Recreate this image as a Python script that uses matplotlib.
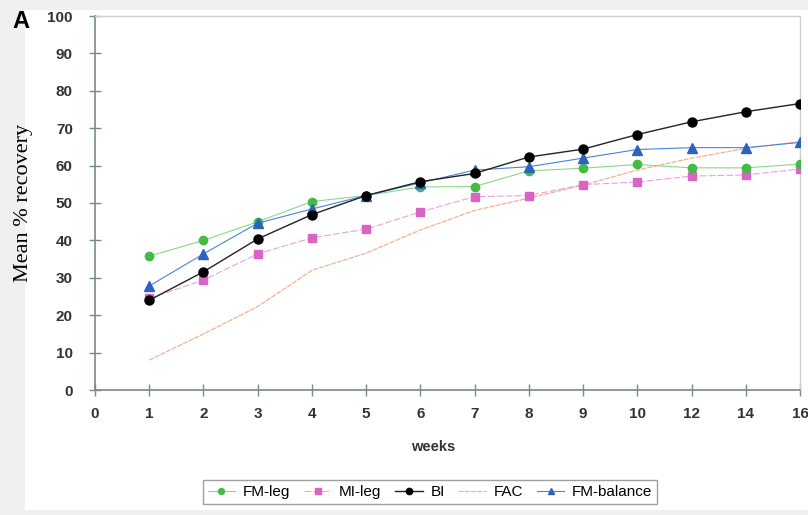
import matplotlib.pyplot as plt
import matplotlib.patches as patches
import numpy as np

# x axis is categorical (equally spaced weeks)
weeks = ['0', '1', '2', '3', '4', '5', '6', '7', '8', '9', '10', '12', '14', '16']

fm_leg = [35.8, 40.0, 45.0, 50.4, 52.0, 54.3, 54.4, 58.6, 59.3, 60.3, 59.4, 59.4, 60.4]
mi_leg = [24.5, 29.4, 36.4, 40.7, 43.0, 47.6, 51.7, 52.0, 54.9, 55.6, 57.2, 57.5, 59.1]
bi = [24.0, 31.6, 40.4, 46.9, 52.0, 55.7, 57.9, 62.3, 64.4, 68.3, 71.7, 74.4, 76.6]
fac = [8.0, 15.0, 22.3, 32.0, 36.6, 42.8, 48.0, 51.3, 54.8, 58.8, 62.0, 64.6, 66.4]
fm_balance = [27.8, 36.4, 44.6, 48.4, 52.0, 55.4, 58.8, 59.7, 62.0, 64.3, 64.8, 64.8, 66.2]

x = np.arange(1, len(weeks))

fig = plt.figure(figsize=(8.08, 5.15), dpi=100, facecolor='#f0f0f0')
# white panel behind the chart
fig.patches.append(patches.Rectangle((25 / 808, 5 / 515), 1, 1 - 15 / 515,
                                     transform=fig.transFigure, facecolor='white',
                                     edgecolor='none', zorder=-5))
ax = fig.add_axes([95 / 808, 1 - 390 / 515, 705 / 808, 374 / 515])
ax.set_facecolor('white')

ax.plot(x, fac, color='#f8b08a', lw=0.9, ls=(0, (4, 1)), label='FAC', zorder=2)
ax.plot(x, mi_leg, color='#eca0e0', lw=0.8, ls=(0, (6, 2)), marker='s', ms=5.5,
        mfc='#d865c4', mec='#d865c4', label='MI-leg', zorder=3)
ax.plot(x, fm_leg, color='#8ad88a', lw=0.8, marker='o', ms=6,
        mfc='#44bb44', mec='#44bb44', label='FM-leg', zorder=3)
ax.plot(x, fm_balance, color='#4a84d6', lw=0.8, marker='^', ms=6.5,
        mfc='#2b63bd', mec='#2b63bd', label='FM-balance', zorder=4)
ax.plot(x, bi, color='#222222', lw=1.0, marker='o', ms=6.5,
        mfc='black', mec='black', label='BI', zorder=5)

ax.set_xlim(0, len(weeks) - 1)
ax.set_ylim(0, 100)
ax.set_xticks(np.arange(len(weeks)))
ax.set_xticklabels(weeks)
ax.set_yticks(np.arange(0, 101, 10))

for s in ['left', 'bottom']:
    ax.spines[s].set_color('#7a8a8a')
    ax.spines[s].set_linewidth(1.2)
for s in ['top', 'right']:
    ax.spines[s].set_color('#d0d0d0')
    ax.spines[s].set_linewidth(1.0)

ax.tick_params(axis='both', direction='inout', length=8, width=1, color='#7a8a8a',
               labelsize=11, labelcolor='#333333')
ax.tick_params(axis='x', pad=8)
ax.tick_params(axis='y', pad=12)
for lab in ax.get_xticklabels() + ax.get_yticklabels():
    lab.set_fontweight('bold')
    lab.set_family('Liberation Sans')

ax.set_xlabel('weeks', fontsize=10.5, family='Liberation Sans', fontweight='bold',
              color='#333333')
ax.xaxis.set_label_coords(0.479, -0.135)
ax.set_ylabel('Mean % recovery', fontsize=16, family='Liberation Serif', labelpad=10)

fig.text(12 / 808, 1 - 22 / 515, 'A', fontsize=17, fontweight='bold',
         family='Liberation Sans', va='center')

handles, labels = ax.get_legend_handles_labels()
order = ['FM-leg', 'MI-leg', 'BI', 'FAC', 'FM-balance']
hmap = dict(zip(labels, handles))
leg = fig.legend([hmap[k] for k in order], order, loc='center',
                 bbox_to_anchor=(430 / 808, 1 - 492 / 515), ncol=5, frameon=True,
                 fancybox=False, edgecolor='#888888',
                 handlelength=1.8, handletextpad=0.5, columnspacing=0.9,
                 borderpad=0.3, markerscale=0.7, prop={'family': 'Liberation Sans', 'size': 11})

fig.savefig('out.png', dpi=100, facecolor=fig.get_facecolor())
